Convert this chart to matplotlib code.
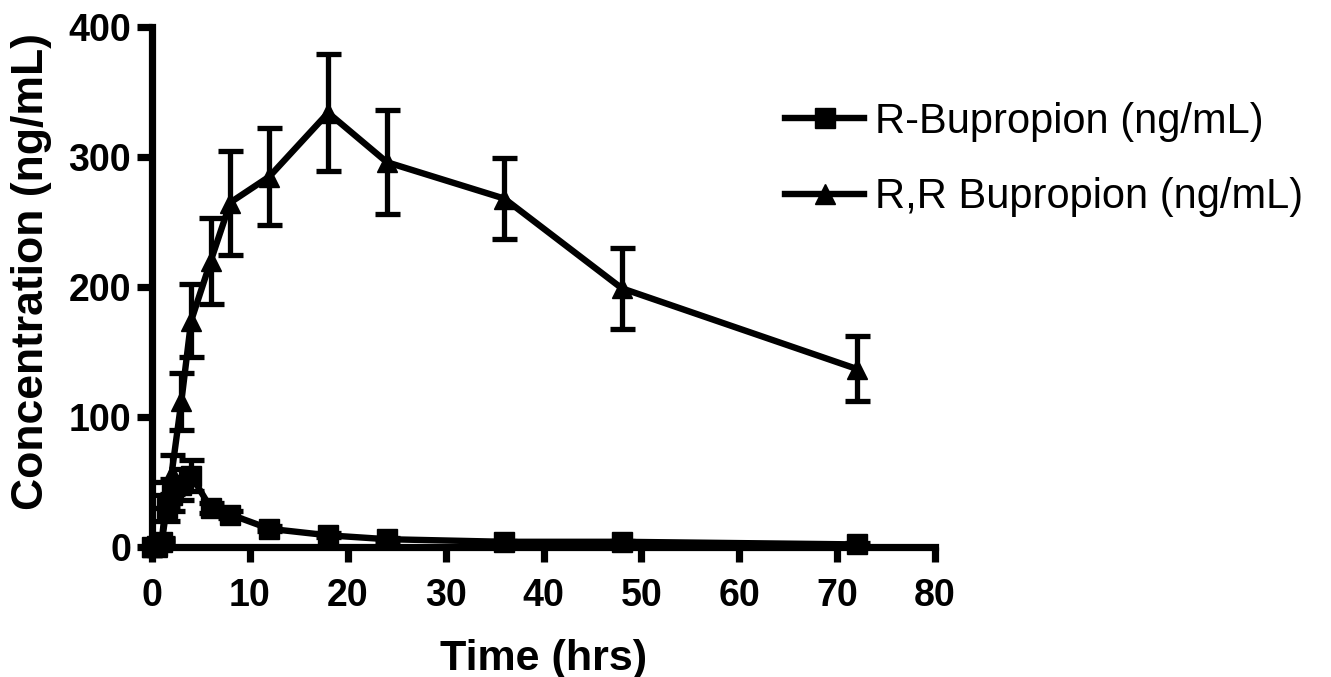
import matplotlib
matplotlib.use("Agg")
import matplotlib.pyplot as plt
from matplotlib.lines import Line2D

plt.rcParams['font.family'] = ['Liberation Sans', 'DejaVu Sans']

time_r = [0, 0.5, 1, 1.5, 2, 3, 4, 6, 8, 12, 18, 24, 36, 48, 72]
r_bup = [0, 1, 4, 30, 40, 48, 55, 30, 25, 14, 9, 6, 4, 4, 2]
r_bup_err = [0, 1, 2, 10, 12, 12, 12, 4, 3, 2, 1.5, 1, 1, 1, 1]

time_rr = [0, 0.5, 1, 1.5, 2, 3, 4, 6, 8, 12, 18, 24, 36, 48, 72]
rr_bup = [0, 0, 5, 40, 56, 112, 174, 220, 265, 285, 334, 296, 268, 199, 137]
rr_bup_err = [0, 0, 2, 10, 15, 22, 28, 33, 40, 37, 45, 40, 31, 31, 25]

labels = ['R-Bupropion (ng/mL)', 'R,R Bupropion (ng/mL)']
xticks = [0, 10, 20, 30, 40, 50, 60, 70, 80]
yticks = [0, 100, 200, 300, 400]

W, H = 1331, 677
fig = plt.figure(figsize=(W / 100, H / 100), dpi=100)
ax = fig.add_axes([152 / W, 1 - 547 / H, (935 - 152) / W, (547 - 27) / H])

lw = 4.6
ax.errorbar(time_r, r_bup, yerr=r_bup_err, color='black', lw=lw, marker='s',
            markersize=14, capsize=9, capthick=3.8, elinewidth=3.8,
            clip_on=False, zorder=3)
ax.errorbar(time_rr, rr_bup, yerr=rr_bup_err, color='black', lw=lw, marker='^',
            markersize=14, capsize=9, capthick=3.8, elinewidth=3.8,
            clip_on=False, zorder=3)

ax.set_xlim(0, 80)
ax.set_ylim(0, 400)
ax.set_xticks(xticks)
ax.set_yticks(yticks)
for s in ['top', 'right']:
    ax.spines[s].set_visible(False)
for s in ['left', 'bottom']:
    ax.spines[s].set_linewidth(5.2)
ax.tick_params(width=5.2, length=11, labelsize=27)
ax.tick_params(axis='x', pad=11)
ax.tick_params(axis='y', pad=4)
for lab in ax.get_xticklabels() + ax.get_yticklabels():
    lab.set_fontweight('bold')

ax.set_xlabel('Time (hrs)', fontsize=31, fontweight='bold', labelpad=18)
ax.set_ylabel('Concentration (ng/mL)', fontsize=32, fontweight='bold')
ax.yaxis.set_label_coords(-0.128, 0.53)

handles = [Line2D([], [], color='black', lw=lw, marker='s', markersize=14),
           Line2D([], [], color='black', lw=lw, marker='^', markersize=14)]
fig.legend(handles, labels, loc='upper left', bbox_to_anchor=(785 / W, 1 - 102 / H),
           frameon=False, fontsize=30, handlelength=1.9, handletextpad=0.26,
           labelspacing=0.85, borderpad=0, borderaxespad=0)

fig.savefig('out.png', dpi=100)
